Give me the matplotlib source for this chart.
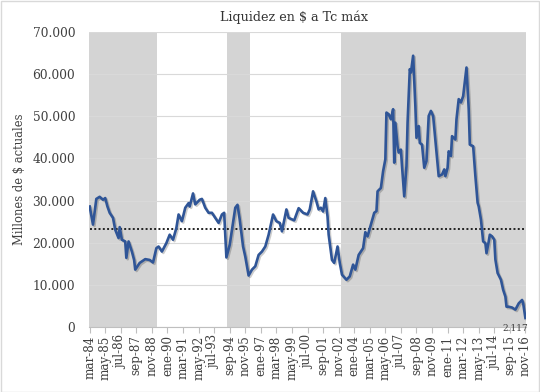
import matplotlib
matplotlib.use("Agg")
import matplotlib.pyplot as plt
import matplotlib.patheffects as pe
from matplotlib.ticker import FuncFormatter

# Month offsets counted from mar-84, with values (millones de $)
months = [0, 3, 6, 9, 12, 14, 16, 18, 21, 23, 26, 27, 29, 32, 33, 35, 38, 40, 41, 45,
          50, 54, 57, 60, 62, 65, 69, 72, 75, 78, 80, 83, 86, 89, 90, 93, 95, 99, 101, 104,
          107, 110, 113, 116, 119, 121, 123, 126, 129, 131, 133, 135, 138, 140, 143, 146, 149, 152, 155, 158,
          161, 165, 168, 171, 173, 177, 179, 184, 188, 192, 196, 198, 201, 204, 206, 208, 210, 212, 214, 215,
          218, 220, 223, 225, 227, 231, 234, 237, 239, 242, 244, 246, 248, 250, 253, 256, 258, 259, 262, 264,
          266, 267, 269, 271, 273, 274, 275, 277, 278, 280, 281, 283, 285, 286, 288, 289, 291, 293, 294, 296,
          297, 299, 301, 303, 305, 307, 309, 312, 314, 317, 319, 320, 322, 323, 325, 326, 329, 330, 332, 334,
          336, 339, 341, 342, 345, 347, 349, 350, 352, 354, 356, 357, 359, 360, 362, 364, 365, 367, 370, 372,
          374, 375, 377, 380, 383, 386, 389, 390, 392]
liquidez = [28600, 24300, 30400, 30900, 30200, 30600, 28600, 27100, 25900, 23100, 21100, 23700, 20700, 20300, 16400, 20300, 17900, 15900, 13600, 15200,
            16100, 15900, 15300, 18700, 19100, 17900, 19900, 21900, 20700, 23500, 26700, 25100, 28300, 29400, 28600, 31700, 29100, 30200, 30400, 28300,
            27100, 27100, 25900, 24700, 26700, 27100, 16500, 19500, 24700, 28300, 29000, 25500, 19100, 16700, 12200, 13600, 14400, 17100, 17900, 19100,
            21900, 26700, 25100, 24700, 22700, 27900, 25900, 25300, 28200, 27100, 26700, 27900, 32200, 29800, 27900, 28300, 27400, 30600, 26200, 21900,
            15900, 15200, 19100, 15200, 12400, 11200, 12000, 14800, 13600, 17100, 17900, 18700, 22500, 21500, 24300, 27100, 27500, 32200, 33000, 37000,
            39800, 50900, 50500, 49300, 51700, 39000, 48500, 42900, 41400, 42100, 38200, 31000, 38200, 48500, 61200, 60400, 64400, 52500, 44900, 47700,
            43700, 43300, 37800, 39400, 50100, 51300, 50100, 41400, 35800, 36200, 37400, 35800, 37800, 41700, 40600, 45300, 44500, 49300, 54100, 53300,
            54800, 61600, 51700, 43300, 42900, 35800, 29500, 28600, 25500, 20300, 19900, 17500, 20300, 21900, 21500, 20700, 16000, 12800, 11200, 8800,
            7200, 4800, 4800, 4600, 4100, 5600, 6400, 5600, 2117]
promedio = 23200

# shaded periods (month offsets)
band_start = [0, 124, 227]
band_end = [60, 144, 392]

tick_labels = ["mar-84", "may-85", "jul-86", "sep-87", "nov-88", "ene-90", "mar-91", "may-92",
               "jul-93", "sep-94", "nov-95", "ene-97", "mar-98", "may-99", "jul-00", "sep-01",
               "nov-02", "ene-04", "mar-05", "may-06", "jul-07", "sep-08", "nov-09", "ene-11",
               "mar-12", "may-13", "jul-14", "sep-15", "nov-16"]
tick_step = 14

plt.rcParams["font.family"] = ["DejaVu Serif"]
txt = "#404040"

fig = plt.figure(figsize=(5.4, 3.92), dpi=100)
ax = fig.add_axes([0.165, 0.166, 0.809, 0.752])

for s, e in zip(band_start, band_end):
    ax.axvspan(s - 0.5, e + 0.5, color="#d4d4d4", lw=0, zorder=0)

ax.set_axisbelow(True)
ax.yaxis.grid(True, color="#d9d9d9", lw=0.8, zorder=0.5)

ax.plot([0, months[-1]], [promedio, promedio], color="#222222", lw=1.4,
        ls=(0, (1, 1.2)), zorder=2)
ax.plot(months, liquidez, color="#2f5597", lw=1.9, zorder=3, solid_joinstyle="round",
        path_effects=[pe.SimpleLineShadow(offset=(1, -1), alpha=0.2), pe.Normal()])

ax.annotate(f"{liquidez[-1]:,}".replace(",", "."), (months[-1], liquidez[-1]),
            xytext=(-7, -4), textcoords="offset points", ha="center", va="top",
            fontsize=6.5, color=txt)

ax.set_xlim(-0.5, months[-1] + 0.5)
ax.set_ylim(0, 70000)
ax.set_yticks(range(0, 70001, 10000))
ax.yaxis.set_major_formatter(FuncFormatter(lambda v, p: f"{int(v):,}".replace(",", ".")))
ax.set_xticks([i * tick_step for i in range(len(tick_labels))])
ax.set_xticklabels(tick_labels, rotation=90)

ax.tick_params(axis="y", length=0, labelsize=8.8, labelcolor=txt, pad=10)
ax.tick_params(axis="x", length=4, color="#bfbfbf", labelsize=8.6, labelcolor=txt, pad=2)
for side in ["top", "right", "left"]:
    ax.spines[side].set_visible(False)
ax.spines["bottom"].set_color("#bfbfbf")

ax.set_ylabel("Millones de $ actuales", fontsize=8.3, color=txt, labelpad=5)
fig.text(0.545, 0.955, "Liquidez en $ a Tc máx", ha="center", va="center",
         fontsize=9.2, color="#333333")

fig.patches.append(plt.Rectangle((0.001, 0.001), 0.997, 0.997, transform=fig.transFigure,
                                 fill=False, ec="#d9d9d9", lw=1))

fig.savefig("out.png", dpi=100)
